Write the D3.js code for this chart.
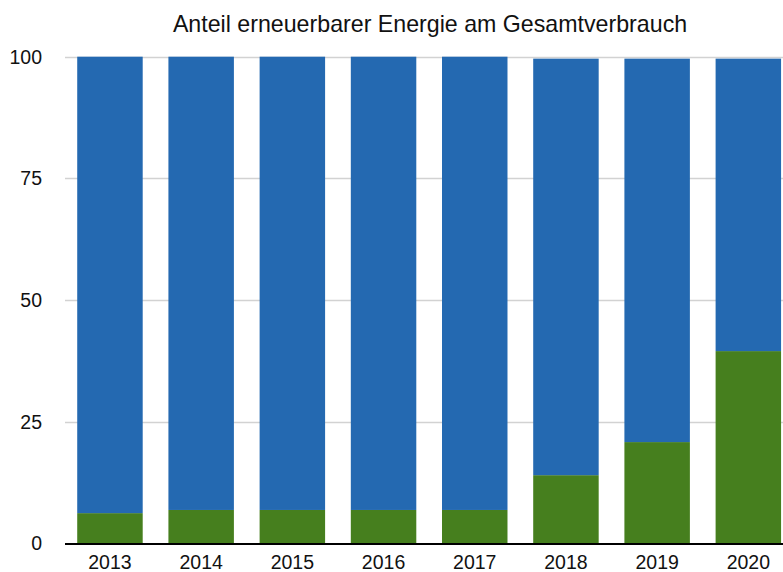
<!DOCTYPE html>
<html>
<head>
<meta charset="utf-8">
<script src="https://cdn.jsdelivr.net/npm/d3@7"></script>
<style>
  html, body { margin: 0; padding: 0; background: #fff; }
  svg { display: block; font-family: "Liberation Sans", Arial, Helvetica, sans-serif; }
</style>
</head>
<body>
<svg id="chart" width="783" height="572"></svg>
<script>
const title = "Anteil erneuerbarer Energie am Gesamtverbrauch";
const years = ["2013", "2014", "2015", "2016", "2017", "2018", "2019", "2020"];
const renewable = [6.2, 6.85, 6.85, 6.85, 6.85, 14.0, 20.8, 39.5];
const other = [93.8, 93.15, 93.15, 93.15, 93.15, 85.6, 78.8, 60.1];
const yTicks = [0, 25, 50, 75, 100];

const colors = { renewable: "#467f1e", other: "#2469b1" };

const W = 783, H = 572;
const svg = d3.select("#chart");

const x = d3.scaleBand().domain(years).range([65, 793.3]).paddingInner(0.282).paddingOuter(0.134);
const y = d3.scaleLinear().domain([0, 100]).range([543.3, 56.7]);

// gridlines
svg.append("g").selectAll("line").data(yTicks.filter(d => d > 0)).join("line")
  .attr("x1", 65).attr("x2", W)
  .attr("y1", d => Math.round(y(d)) + 0.5).attr("y2", d => Math.round(y(d)) + 0.5)
  .attr("stroke", "#d2d2d2").attr("stroke-width", 1.3);

// stacked data
const rows = years.map((yr, i) => ({ year: yr, renewable: renewable[i], other: other[i] }));
const stack = d3.stack().keys(["renewable", "other"])(rows);

svg.append("g").selectAll("g").data(stack).join("g")
  .attr("fill", d => colors[d.key])
  .selectAll("rect").data(d => d).join("rect")
  .attr("x", d => x(d.data.year))
  .attr("width", x.bandwidth())
  .attr("y", d => y(d[1]))
  .attr("height", d => y(d[0]) - y(d[1]));

// x axis line
svg.append("line").attr("x1", 65).attr("x2", W)
  .attr("y1", 544).attr("y2", 544)
  .attr("stroke", "#000").attr("stroke-width", 2);

// y tick labels
svg.append("g").selectAll("text").data(yTicks).join("text")
  .attr("x", 42).attr("y", d => y(d))
  .attr("dy", "0.36em")
  .attr("text-anchor", "end")
  .attr("font-size", 19.5)
  .attr("fill", "#111")
  .text(d => d);

// x labels
svg.append("g").selectAll("text").data(years).join("text")
  .attr("x", d => x(d) + x.bandwidth() / 2)
  .attr("y", 569)
  .attr("text-anchor", "middle")
  .attr("font-size", 19.5)
  .attr("fill", "#111")
  .text(d => d);

// title
svg.append("text").attr("x", 430).attr("y", 31.5)
  .attr("text-anchor", "middle")
  .attr("font-size", 23.2)
  .attr("fill", "#111")
  .text(title);
</script>
</body>
</html>
